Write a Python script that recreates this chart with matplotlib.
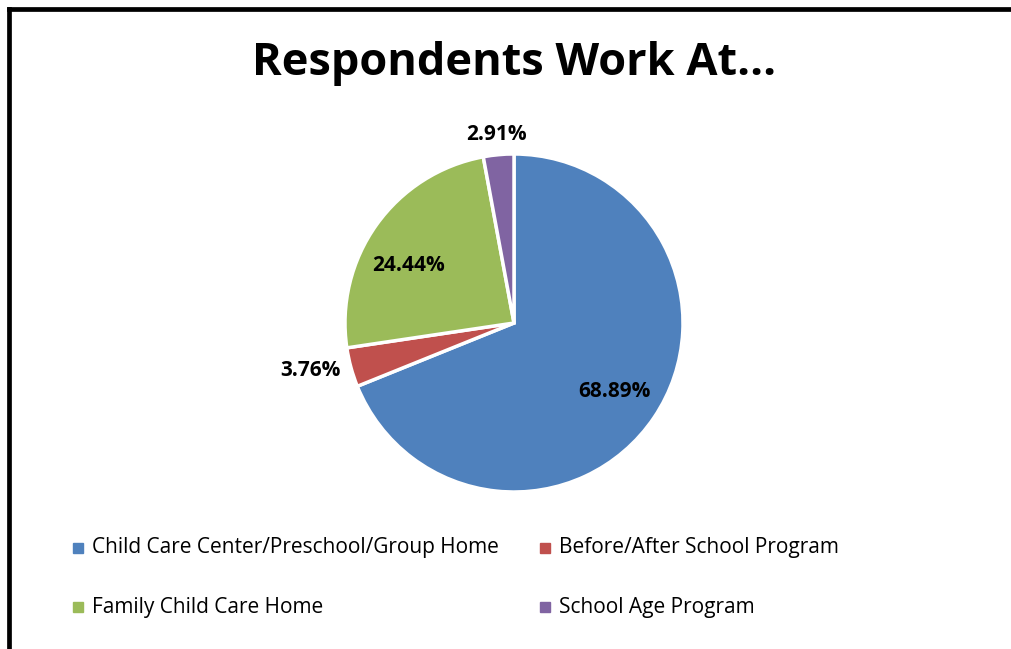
import numpy as np
import matplotlib
matplotlib.use("Agg")
import matplotlib.pyplot as plt
from matplotlib.lines import Line2D
from matplotlib.patches import Rectangle

categories = ["Child Care Center/Preschool/Group Home",
              "Before/After School Program",
              "Family Child Care Home",
              "School Age Program"]
shares = [68.89, 3.76, 24.44, 2.91]
colors = ["#4F81BD", "#C0504D", "#9BBB59", "#8064A2"]
# where each percentage label sits: fraction of radius, and turn from the wedge middle (deg)
label_dist = [0.72, 1.24, 0.71, 1.12]
label_turn = [0, -2, 7, 0]

plt.rcParams['font.family'] = ['Open Sans', 'DejaVu Sans']

W, H = 1011, 649
fig = plt.figure(figsize=(W / 100, H / 100), dpi=100)

# chart frame (left and top edges)
fig.add_artist(Line2D([9 / W, 9 / W], [0, 1 - 9 / H], color="black", lw=3.4,
                      transform=fig.transFigure, solid_capstyle="projecting"))
fig.add_artist(Line2D([9 / W, 1], [1 - 9 / H, 1 - 9 / H], color="black", lw=3.4,
                      transform=fig.transFigure, solid_capstyle="projecting"))

fig.text(514 / W, 1 - 63 / H, "Respondents Work At...", ha="center", va="center",
         fontsize=32.5, fontweight="bold")

# pie axes: centre (514, 323) px, radius 169 px
cx, cy, r = 514, 323, 169
ax = fig.add_axes([(cx - r) / W, (H - cy - r) / H, 2 * r / W, 2 * r / H])
wedges, _ = ax.pie(shares, colors=colors, startangle=90, counterclock=False,
                   wedgeprops=dict(edgecolor="white", linewidth=2.5))
ax.set_xlim(-1, 1)
ax.set_ylim(-1, 1)
ax.set_aspect("equal")
ax.axis("off")

for w, val, d, t in zip(wedges, shares, label_dist, label_turn):
    ang = np.deg2rad((w.theta1 + w.theta2) / 2 + t)
    ax.text(d * np.cos(ang), d * np.sin(ang), f"{val:.2f}%", ha="center",
            va="center", fontsize=15, fontweight="bold", clip_on=False)

# legend, two columns
legend_pos = [(78, 548), (545, 548), (78, 607), (545, 607)]
for (lx, ly), name, c in zip(legend_pos, categories, colors):
    fig.add_artist(Rectangle(((lx - 5) / W, 1 - (ly + 5) / H), 10 / W, 10 / H,
                             color=c, transform=fig.transFigure))
    fig.text((lx + 14) / W, 1 - ly / H, name, ha="left", va="center", fontsize=15)

fig.savefig("out.png", dpi=100)
